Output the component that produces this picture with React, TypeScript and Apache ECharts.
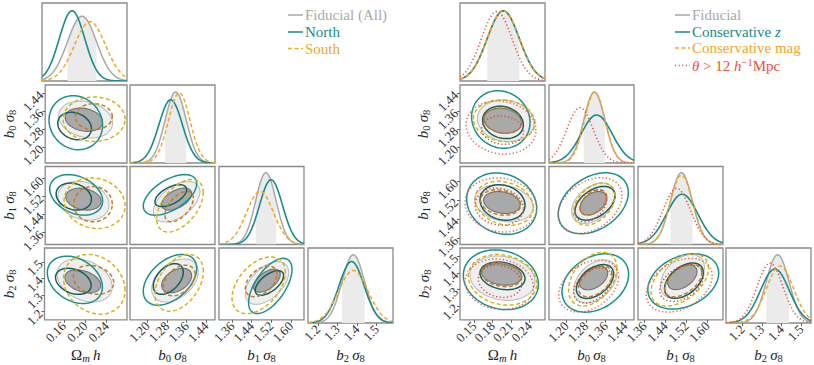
import React, { useEffect, useRef } from 'react';
import * as echarts from 'echarts';

type Ell = number[]; // [cx, cy, hx, hy, rho]

const FONT = "'Liberation Serif', 'DejaVu Serif', serif";

// ---------- axes ----------
const axisNames = ['{r|Ω}{sm|m} {i|h}', '{i|b}{s|0} {i|σ}{s|8}', '{i|b}{s|1} {i|σ}{s|8}', '{i|b}{s|2} {i|σ}{s|8}'];
const tickDecimals = [2, 2, 2, 1];

const rangesLeft = [[0.124, 0.278], [1.129, 1.476], [1.306, 1.654], [1.15, 1.583]];
const ticksLeft = [[0.16, 0.2, 0.24], [1.2, 1.28, 1.36, 1.44], [1.36, 1.44, 1.52, 1.6], [1.2, 1.3, 1.4, 1.5]];
const rangesRight = [[0.127, 0.265], [1.129, 1.476], [1.335, 1.66], [1.117, 1.55]];
const ticksRight = [[0.15, 0.18, 0.21, 0.24], [1.2, 1.28, 1.36, 1.44], [1.36, 1.44, 1.52, 1.6], [1.2, 1.3, 1.4, 1.5]];

// pair order for 2D panels: [row, col]
const pairOrder = [[1, 0], [2, 0], [3, 0], [2, 1], [3, 1], [3, 2]];

// ---------- 1D marginals: [mean, sigma, peak height] ----------
const fiducialMarginalL = [[0.1965, 0.0263, 0.83], [1.3155, 0.043, 0.91], [1.498, 0.042, 0.92], [1.381, 0.0575, 0.91]];
const northMarginalL = [[0.1784, 0.023, 0.9], [1.295, 0.048, 0.81], [1.519, 0.047, 0.83], [1.372, 0.064, 0.82]];
const southMarginalL = [[0.211, 0.028, 0.76], [1.33, 0.044, 0.9], [1.474, 0.055, 0.68], [1.381, 0.075, 0.7]];

const fiducialMarginalR = [[0.1973, 0.026, 0.9], [1.314, 0.043, 0.91], [1.501, 0.042, 0.92], [1.38, 0.0577, 0.91]];
const consZMarginalR = [[0.1973, 0.026, 0.9], [1.3236, 0.0636, 0.615], [1.504, 0.06, 0.645], [1.366, 0.073, 0.72]];
const consMagMarginalR = [[0.1973, 0.026, 0.9], [1.316, 0.042, 0.91], [1.501, 0.043, 0.89], [1.392, 0.069, 0.76]];
const scaleCutMarginalR = [[0.1866, 0.025, 0.89], [1.2555, 0.054, 0.71], [1.483, 0.053, 0.72], [1.341, 0.066, 0.8]];

// ---------- 2D contours: [cx, cy, half-width x, half-width y, tilt] ----------
const fiducialInnerL: Ell[] = [[0.1968, 1.3216, 0.0353, 0.0518, -0.2], [0.196, 1.5085, 0.0332, 0.049, -0.2], [0.1956, 1.382, 0.0335, 0.0694, -0.35], [1.3195, 1.5085, 0.0612, 0.049, 0.5], [1.3195, 1.387, 0.0612, 0.074, 0.4], [1.5023, 1.386, 0.0545, 0.0694, 0.55]];
const fiducialOuterL: Ell[] = [[0.2001, 1.3225, 0.0507, 0.082, -0.2], [0.196, 1.501, 0.0483, 0.0866, -0.2], [0.1989, 1.387, 0.0514, 0.13, -0.3], [1.3195, 1.497, 0.095, 0.0904, 0.5], [1.3126, 1.387, 0.095, 0.13, 0.4], [1.5023, 1.372, 0.0887, 0.129, 0.5]];
const northInnerL: Ell[] = [[0.1793, 1.2936, 0.0317, 0.061, -0.2], [0.1778, 1.5198, 0.0332, 0.0603, -0.2], [0.1778, 1.382, 0.0332, 0.0786, -0.3], [1.2955, 1.524, 0.0645, 0.049, 0.55], [1.2853, 1.396, 0.0612, 0.0925, 0.45], [1.5125, 1.372, 0.058, 0.074, 0.6]];
const northOuterL: Ell[] = [[0.1816, 1.3082, 0.0504, 0.12, -0.1], [0.1823, 1.5274, 0.0498, 0.0904, -0.3], [0.1807, 1.391, 0.0514, 0.143, -0.3], [1.2922, 1.5274, 0.109, 0.0904, 0.55], [1.2922, 1.391, 0.109, 0.153, 0.45], [1.516, 1.354, 0.0887, 0.1665, 0.6]];
const southInnerL: Ell[] = [[0.2155, 1.335, 0.0348, 0.0579, 0], [0.214, 1.486, 0.0362, 0.079, 0], [0.2155, 1.391, 0.0377, 0.0877, -0.2], [1.3297, 1.475, 0.058, 0.068, 0.55], [1.3297, 1.387, 0.0646, 0.0925, 0.4], [1.4786, 1.382, 0.0646, 0.0925, 0.45]];
const southOuterL: Ell[] = [[0.216, 1.3238, 0.0583, 0.0988, 0], [0.217, 1.49, 0.0574, 0.113, -0.1], [0.217, 1.364, 0.0574, 0.18, -0.2], [1.333, 1.479, 0.095, 0.117, 0.5], [1.3297, 1.373, 0.0986, 0.171, 0.4], [1.4684, 1.358, 0.109, 0.171, 0.45]];

const fiducialInnerR: Ell[] = [[0.1965, 1.3167, 0.0306, 0.0556, -0.15], [0.195, 1.51, 0.0297, 0.0457, -0.2], [0.1947, 1.3907, 0.0325, 0.0648, -0.2], [1.3098, 1.5068, 0.0544, 0.049, 0.4], [1.3106, 1.37, 0.058, 0.072, 0.4], [1.5045, 1.374, 0.056, 0.075, 0.45]];
const fiducialOuterR: Ell[] = [[0.2012, 1.3167, 0.046, 0.0927, -0.1], [0.1985, 1.5068, 0.0474, 0.0774, -0.2], [0.196, 1.368, 0.0528, 0.134, -0.15], [1.3098, 1.5068, 0.0884, 0.0844, 0.4], [1.318, 1.3484, 0.0884, 0.13, 0.4], [1.505, 1.378, 0.084, 0.133, 0.4]];
const consZInnerR: Ell[] = [[0.1968, 1.3095, 0.033, 0.072, -0.15], [0.196, 1.51, 0.0365, 0.0739, -0.15], [0.196, 1.382, 0.0365, 0.0833, -0.2], [1.3168, 1.5068, 0.0816, 0.0703, 0.45], [1.3167, 1.348, 0.076, 0.102, 0.45], [1.5108, 1.353, 0.0742, 0.1065, 0.45]];
const consZOuterR: Ell[] = [[0.1933, 1.3225, 0.0474, 0.128, -0.1], [0.1947, 1.5052, 0.0568, 0.128, -0.15], [0.1933, 1.3585, 0.0609, 0.18, -0.15], [1.3098, 1.5068, 0.143, 0.127, 0.35], [1.318, 1.339, 0.136, 0.176, 0.3], [1.508, 1.3485, 0.1355, 0.1665, 0.3]];
const consMagInnerR: Ell[] = [[0.1965, 1.3167, 0.0306, 0.0556, -0.15], [0.193, 1.51, 0.0325, 0.0528, -0.2], [0.1947, 1.389, 0.0325, 0.0722, -0.2], [1.31, 1.51, 0.0544, 0.0527, 0.45], [1.318, 1.3485, 0.068, 0.0925, 0.45], [1.508, 1.3526, 0.071, 0.097, 0.5]];
const consMagOuterR: Ell[] = [[0.1988, 1.3167, 0.05, 0.0927, -0.1], [0.1988, 1.5068, 0.0474, 0.0916, -0.2], [0.196, 1.3585, 0.0555, 0.1526, -0.15], [1.3134, 1.5033, 0.085, 0.088, 0.4], [1.3077, 1.3624, 0.0986, 0.162, 0.4], [1.4946, 1.3574, 0.11, 0.157, 0.45]];
const scaleCutInnerR: Ell[] = [[0.196, 1.275, 0.034, 0.063, -0.1], [0.1907, 1.4925, 0.0393, 0.0774, -0.1], [0.192, 1.349, 0.0352, 0.097, -0.15], [1.2995, 1.496, 0.0646, 0.0668, 0.4], [1.3077, 1.325, 0.078, 0.1065, 0.4], [1.502, 1.339, 0.084, 0.111, 0.4]];
const scaleCutOuterR: Ell[] = [[0.1936, 1.287, 0.0568, 0.118, -0.1], [0.1933, 1.4997, 0.0582, 0.1127, -0.1], [0.1907, 1.3308, 0.0555, 0.1526, -0.1], [1.2963, 1.4975, 0.1306, 0.116, 0.35], [1.291, 1.321, 0.122, 0.157, 0.35], [1.4926, 1.3252, 0.126, 0.162, 0.35]];

// ---------- styles ----------
const STY: any = {
  fid: {
    outer: { fill: '#efefef', stroke: '#bdbdbd', lineWidth: 1.1 },
    inner: { fill: '#a9a9a9', stroke: '#707070', lineWidth: 1.1 },
    line: { stroke: '#a9a9a9', lineWidth: 1.5 },
  },
  teal: {
    outer: { fill: 'none', stroke: '#1a9191', lineWidth: 1.5 },
    inner: { fill: 'none', stroke: '#175e5e', lineWidth: 1.5 },
    line: { stroke: '#188c8c', lineWidth: 1.6 },
  },
  orange: {
    outer: { fill: 'none', stroke: '#d6b414', lineWidth: 1.5, lineDash: [4, 2.5] },
    inner: { fill: 'none', stroke: '#c47c22', lineWidth: 1.5, lineDash: [4, 2.5] },
    line: { stroke: '#f6a623', lineWidth: 1.5, lineDash: [4, 2.5] },
  },
  red: {
    outer: { fill: 'none', stroke: '#ee5f4a', lineWidth: 1.5, lineDash: [1.2, 2.4] },
    inner: { fill: 'none', stroke: '#d24b36', lineWidth: 1.5, lineDash: [1.2, 2.4] },
    line: { stroke: '#f05040', lineWidth: 1.6, lineDash: [1.2, 2.4] },
  },
};

const richName = {
  r: { fontFamily: FONT, fontSize: 15, lineHeight: 18, color: '#222' },
  i: { fontFamily: FONT, fontSize: 15, fontStyle: 'italic', lineHeight: 18, color: '#222' },
  s: { fontFamily: FONT, fontSize: 10.5, lineHeight: 10, verticalAlign: 'bottom', color: '#222' },
  sm: { fontFamily: FONT, fontSize: 10.5, fontStyle: 'italic', lineHeight: 10, verticalAlign: 'bottom', color: '#222' },
};

const COLS_L = [42, 130, 219, 308];
const COLS_R = [460, 549, 638, 726];
const ROWS = [3, 85, 166.5, 248];
const PW = 85;
const PH = 78;

function ellipseItem(styleIn: any) {
  return (params: any, api: any) => {
    const cx = api.value(0), cy = api.value(1), hx = api.value(2), hy = api.value(3), rho = api.value(4);
    const s = Math.sqrt(1 - rho * rho);
    const pts: number[][] = [];
    const N = 90;
    for (let k = 0; k <= N; k++) {
      const t = (2 * Math.PI * k) / N;
      pts.push(api.coord([cx + hx * Math.cos(t), cy + hy * (rho * Math.cos(t) + s * Math.sin(t))]));
    }
    const st = params.dataIndex === 0 ? styleIn.outer : styleIn.inner;
    return { type: 'polygon', shape: { points: pts }, style: { ...st } };
  };
}

function gaussItem(lo: number, hi: number, style: any, band: boolean) {
  return (params: any, api: any) => {
    const m = api.value(0), sd = api.value(1), p = api.value(2);
    const a = band ? m - sd : lo;
    const b = band ? m + sd : hi;
    const N = 120;
    const pts: number[][] = [];
    for (let k = 0; k <= N; k++) {
      const x = a + ((b - a) * k) / N;
      pts.push(api.coord([x, p * Math.exp(-0.5 * ((x - m) / sd) ** 2)]));
    }
    if (band) {
      pts.push(api.coord([b, 0]));
      pts.push(api.coord([a, 0]));
      return { type: 'polygon', shape: { points: pts }, style: { fill: '#ebebeb', stroke: 'none' } };
    }
    return { type: 'polyline', shape: { points: pts }, style: { ...style, fill: 'none' } };
  };
}

function tickLabel(values: number[], dec: number) {
  return {
    show: true, customValues: values, rotate: 45, margin: 4,
    showMinLabel: true, showMaxLabel: true, hideOverlap: false,
    fontFamily: FONT, fontSize: 13, color: '#333',
    formatter: (v: number) => v.toFixed(dec),
  };
}

// Two interleaved axes per labelled side so that the slanted labels never collide.
function labelledAxes(base: any, values: number[], dec: number, extra: any) {
  const even = values.filter((_, k) => k % 2 === 0);
  const odd = values.filter((_, k) => k % 2 === 1);
  return [even, odd].map((vals) => ({
    ...base, ...extra,
    axisLine: { show: false }, splitLine: { show: false },
    axisTick: { show: true, length: 3, customValues: vals, lineStyle: { color: '#666' } },
    axisLabel: tickLabel(vals, dec),
  }));
}

function buildSide(opt: any, cols: number[], ranges: number[][], ticks: number[][], marg: { data: number[][]; sty: any }[], runs: { inner: Ell[]; outer: Ell[]; sty: any }[], fidMarg: number[][]) {
  const idx: Record<string, { x: number; y: number }> = {};
  for (let i = 0; i < 4; i++) {
    for (let j = 0; j <= i; j++) {
      const g = opt.grid.length;
      opt.grid.push({ left: cols[j], top: ROWS[i], width: PW, height: PH, show: true, borderColor: '#8a8a8a', borderWidth: 1.3, backgroundColor: 'transparent' });
      const xi = opt.xAxis.length;
      const xBase = { gridIndex: g, type: 'value', min: ranges[j][0], max: ranges[j][1] };
      if (i === 3) {
        const axes = labelledAxes(xBase, ticks[j], tickDecimals[j], { position: 'bottom', offset: 0 });
        axes[0].name = axisNames[j];
        axes[0].nameLocation = 'middle';
        axes[0].nameGap = 23;
        axes[0].nameTextStyle = { rich: richName };
        opt.xAxis.push(...axes);
      } else {
        opt.xAxis.push({ ...xBase, axisLine: { show: false }, splitLine: { show: false }, axisTick: { show: false }, axisLabel: { show: false } });
      }
      const yi = opt.yAxis.length;
      if (i === j) {
        opt.yAxis.push({ gridIndex: g, type: 'value', min: 0, max: 1, show: false });
      } else {
        const yBase = { gridIndex: g, type: 'value', min: ranges[i][0], max: ranges[i][1] };
        if (j === 0) {
          const axes = labelledAxes(yBase, ticks[i], tickDecimals[i], { position: 'left', offset: 0 });
          axes[0].name = axisNames[i];
          axes[0].nameLocation = 'middle';
          axes[0].nameGap = 27;
          axes[0].nameRotate = 90;
          axes[0].nameTextStyle = { rich: richName };
          opt.yAxis.push(...axes);
        } else {
          opt.yAxis.push({ ...yBase, axisLine: { show: false }, splitLine: { show: false }, axisTick: { show: false }, axisLabel: { show: false } });
        }
      }
      idx[i + '_' + j] = { x: xi, y: yi };
    }
  }
  // diagonal panels
  for (let d = 0; d < 4; d++) {
    const a = idx[d + '_' + d];
    const [lo, hi] = ranges[d];
    opt.series.push({
      type: 'custom', xAxisIndex: a.x, yAxisIndex: a.y, clip: true, silent: true,
      data: [fidMarg[d]], renderItem: gaussItem(lo, hi, null, true),
    });
    marg.forEach((mr) => {
      opt.series.push({
        type: 'custom', xAxisIndex: a.x, yAxisIndex: a.y, clip: true, silent: true,
        data: [mr.data[d]], renderItem: gaussItem(lo, hi, mr.sty.line, false),
      });
    });
  }
  // 2D panels
  pairOrder.forEach(([r, c], k) => {
    const a = idx[r + '_' + c];
    runs.forEach((run) => {
      opt.series.push({
        type: 'custom', xAxisIndex: a.x, yAxisIndex: a.y, clip: true, silent: true,
        data: [run.outer[k], run.inner[k]], renderItem: ellipseItem(run.sty),
      });
    });
  });
}

function legend(x: number, ys: number[], items: { text: string; sty: any }[]) {
  const els: any[] = [];
  items.forEach((it, k) => {
    const y = ys[k];
    els.push({
      type: 'line', shape: { x1: x, y1: y, x2: x + 15, y2: y },
      style: { stroke: it.sty.line.stroke, lineWidth: 1.5, lineDash: it.sty.line.lineDash || null },
    });
    const c = it.sty.line.stroke;
    els.push({
      type: 'text', x: x + 17, y: y,
      style: {
        text: it.text, fill: c, fontFamily: FONT, fontSize: 15, verticalAlign: 'middle', align: 'left',
        rich: {
          r: { fill: c, fontFamily: FONT, fontSize: 15, lineHeight: 18 },
          i: { fill: c, fontFamily: FONT, fontSize: 15, fontStyle: 'italic', lineHeight: 18 },
          sup: { fill: c, fontFamily: FONT, fontSize: 10.5, lineHeight: 10, verticalAlign: 'top' },
        },
      },
    });
  });
  return els;
}

export default function App() {
  const ref = useRef<HTMLDivElement>(null);
  useEffect(() => {
    if (!ref.current) return;
    const chart = echarts.init(ref.current, null, { renderer: 'svg' });
    const opt: any = { animation: false, backgroundColor: '#ffffff', grid: [], xAxis: [], yAxis: [], series: [] };

    buildSide(opt, COLS_L, rangesLeft, ticksLeft,
      [{ data: fiducialMarginalL, sty: STY.fid }, { data: northMarginalL, sty: STY.teal }, { data: southMarginalL, sty: STY.orange }],
      [{ inner: fiducialInnerL, outer: fiducialOuterL, sty: STY.fid }, { inner: northInnerL, outer: northOuterL, sty: STY.teal }, { inner: southInnerL, outer: southOuterL, sty: STY.orange }],
      fiducialMarginalL);
    buildSide(opt, COLS_R, rangesRight, ticksRight,
      [{ data: fiducialMarginalR, sty: STY.fid }, { data: consZMarginalR, sty: STY.teal }, { data: consMagMarginalR, sty: STY.orange }, { data: scaleCutMarginalR, sty: STY.red }],
      [{ inner: fiducialInnerR, outer: fiducialOuterR, sty: STY.fid }, { inner: consZInnerR, outer: consZOuterR, sty: STY.teal }, { inner: consMagInnerR, outer: consMagOuterR, sty: STY.orange }, { inner: scaleCutInnerR, outer: scaleCutOuterR, sty: STY.red }],
      fiducialMarginalR);

    opt.graphic = [
      ...legend(288, [15, 32, 48.5], [
        { text: 'Fiducial (All)', sty: STY.fid },
        { text: 'North', sty: STY.teal },
        { text: 'South', sty: STY.orange },
      ]),
      ...legend(675, [15, 32, 48, 65.5], [
        { text: 'Fiducial', sty: STY.fid },
        { text: '{r|Conservative }{i|z}', sty: STY.teal },
        { text: 'Conservative mag', sty: STY.orange },
        { text: '{i|θ}{r| > 12 }{i|h}{sup|−1}{r|Mpc}', sty: STY.red },
      ]),
    ];

    chart.setOption(opt);
    return () => chart.dispose();
  }, []);
  return <div ref={ref} style={{ position: 'absolute', left: 0, top: 0, width: 814, height: 365 }} />;
}
